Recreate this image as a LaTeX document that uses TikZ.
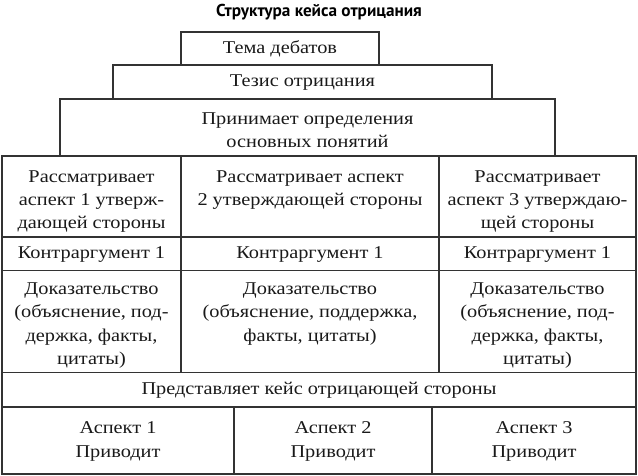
\documentclass[tikz,border=0pt]{standalone}
\usepackage{fontspec}
\setmainfont{Liberation Serif}[FakeStretch=1.13]
\newfontfamily\titlefont{PT Sans}
\begin{document}
\begin{tikzpicture}[x=1pt,y=-1pt,
  cell/.style={draw=black!80, line width=1.2pt, inner sep=0pt},
  txt/.style={inner sep=0pt, align=center, text=black!90, font=\fontsize{18}{23.2}\selectfont},
  ttl/.style={inner sep=0pt, font=\titlefont\bfseries\fontsize{17.2}{20}\selectfont}]
\useasboundingbox (0,0) rectangle (638,476);
\node[ttl] (title) at (319,12) {Структура кейса отрицания};
% pyramid
\node[cell, minimum width=198pt, minimum height=33pt] (topic) at (280,48.5) {};
\node[txt] (topic-t) at ([yshift=-0.5pt]topic.center) {Тема дебатов};
\node[cell, minimum width=379pt, minimum height=34pt] (thesis) at (302.5,82) {};
\node[txt] (thesis-t) at ([yshift=-0.5pt]thesis.center) {Тезис отрицания};
\node[cell, minimum width=495pt, minimum height=57pt] (defs) at (307.5,127.5) {};
\node[txt] (defs-t) at ([yshift=-2.5pt]defs.center) {Принимает определения\\основных понятий};
% row 1
\node[cell, minimum width=179pt, minimum height=81pt] (r1a) at (91.5,196.5) {};
\node[cell, minimum width=258pt, minimum height=81pt] (r1b) at (310,196.5) {};
\node[cell, minimum width=197pt, minimum height=81pt] (r1c) at (537.5,196.5) {};
\node[txt] (r1a-t) at ([yshift=-5pt]r1a.center) {Рассматривает\\аспект 1 утверж-\\дающей стороны};
\node[txt, anchor=north] (r1b-t) at (r1a-t.north -| r1b.center) {Рассматривает аспект\\2 утверждающей стороны};
\node[txt] (r1c-t) at ([yshift=-5pt]r1c.center) {Рассматривает\\аспект 3 утверждаю-\\щей стороны};
% row 2
\node[cell, minimum width=179pt, minimum height=33.5pt] (r2a) at (91.5,253.75) {};
\node[cell, minimum width=258pt, minimum height=33.5pt] (r2b) at (310,253.75) {};
\node[cell, minimum width=197pt, minimum height=33.5pt] (r2c) at (537.5,253.75) {};
\node[txt] (r2a-t) at ([yshift=-0.5pt]r2a.center) {Контраргумент 1};
\node[txt] (r2b-t) at ([yshift=-0.5pt]r2b.center) {Контраргумент 1};
\node[txt] (r2c-t) at ([yshift=-0.5pt]r2c.center) {Контраргумент 1};
% row 3
\node[cell, minimum width=179pt, minimum height=102pt] (r3a) at (91.5,321.5) {};
\node[cell, minimum width=258pt, minimum height=102pt] (r3b) at (310,321.5) {};
\node[cell, minimum width=197pt, minimum height=102pt] (r3c) at (537.5,321.5) {};
\node[txt] (r3a-t) at ([yshift=-4pt]r3a.center) {Доказательство\\(объяснение, под-\\держка, факты,\\цитаты)};
\node[txt, anchor=north] (r3b-t) at (r3a-t.north -| r3b.center) {Доказательство\\(объяснение, поддержка,\\факты, цитаты)};
\node[txt] (r3c-t) at ([yshift=-4pt]r3c.center) {Доказательство\\(объяснение, под-\\держка, факты,\\цитаты)};
% row 4
\node[cell, minimum width=634pt, minimum height=34.5pt] (r4) at (319,389.75) {};
\node[txt] (r4-t) at ([yshift=-0.5pt]r4.center) {Представляет кейс отрицающей стороны};
% row 5
\node[cell, minimum width=232pt, minimum height=67pt] (r5a) at (118,440.5) {};
\node[cell, minimum width=198pt, minimum height=67pt] (r5b) at (333,440.5) {};
\node[cell, minimum width=204pt, minimum height=67pt] (r5c) at (534,440.5) {};
\node[txt] (r5a-t) at ([yshift=-1pt]r5a.center) {Аспект 1\\Приводит};
\node[txt] (r5b-t) at ([yshift=-1pt]r5b.center) {Аспект 2\\Приводит};
\node[txt] (r5c-t) at ([yshift=-1pt]r5c.center) {Аспект 3\\Приводит};
\end{tikzpicture}
\end{document}
